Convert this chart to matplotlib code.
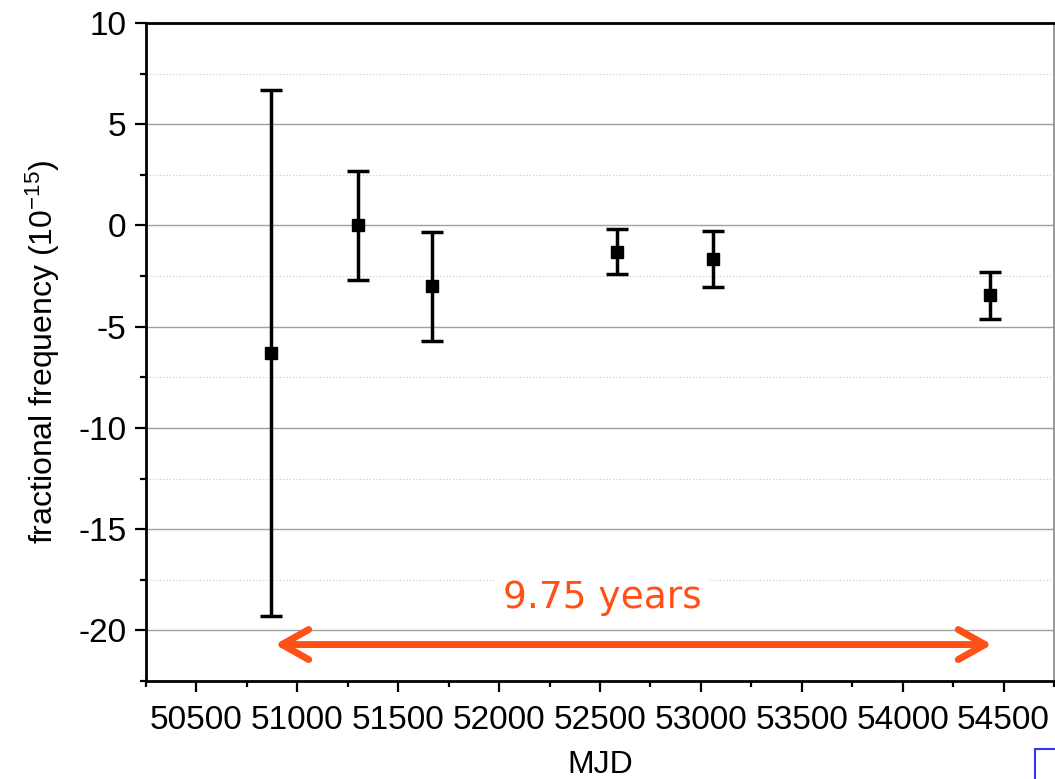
import matplotlib.pyplot as plt
import matplotlib.patches as patches
from matplotlib.ticker import MultipleLocator

plt.rcParams['font.family'] = ['Liberation Sans', 'DejaVu Sans']
plt.rcParams['axes.unicode_minus'] = False
plt.rcParams['mathtext.fontset'] = 'custom'
plt.rcParams['mathtext.rm'] = 'Liberation Sans'
plt.rcParams['mathtext.default'] = 'regular'
plt.rcParams['font.size'] = 24

# data
mjd = [50869, 51300, 51666, 52582, 53062, 54433]
freq = [-6.3, 0.0, -3.0, -1.3, -1.65, -3.45]
err = [13.0, 2.7, 2.7, 1.1, 1.4, 1.15]
span_start, span_end = 50889, 54443
span_label = '9.75 years'

fig = plt.figure(figsize=(10.55, 7.79), dpi=100)
ax = fig.add_axes([0.1384, 0.1258, 0.8606, 0.8447])

ax.errorbar(mjd, freq, yerr=err, fmt='s', color='black', ms=8.5, lw=2.5,
            capsize=8, capthick=2.5, zorder=3)

ax.set_xlim(50250, 54750)
ax.set_ylim(-22.5, 10)
ax.xaxis.set_major_locator(MultipleLocator(500))
ax.xaxis.set_minor_locator(MultipleLocator(250))
ax.yaxis.set_major_locator(MultipleLocator(5))
ax.yaxis.set_minor_locator(MultipleLocator(2.5))
ax.set_xticks([50500, 51000, 51500, 52000, 52500, 53000, 53500, 54000, 54500])

ax.grid(which='major', axis='y', color='#a0a0a0', lw=1.0)
ax.grid(which='minor', axis='y', color='#c8c8c8', lw=0.8, ls=(0, (1, 2)))
ax.set_axisbelow(True)

ax.tick_params(which='major', direction='out', length=8, width=1.6, pad=6)
ax.tick_params(which='minor', direction='out', length=4, width=1.6)
ax.tick_params(axis='both', labelsize=24)
ax.tick_params(axis='x', pad=9)
for s in ['left', 'bottom', 'top']:
    ax.spines[s].set_linewidth(2)
ax.spines['right'].set_linewidth(1.2)
ax.spines['right'].set_color('#888888')

ax.set_xlabel('MJD', fontsize=23, labelpad=10)
ax.set_ylabel('fractional frequency (10$^{-15}$)', fontsize=23, labelpad=12)

ax.annotate('', xy=(span_end, -20.7), xytext=(span_start, -20.7),
            arrowprops=dict(arrowstyle='<->,head_length=0.8,head_width=0.45',
                            color='#ff5016', lw=5, shrinkA=0, shrinkB=0,
                            capstyle='round', joinstyle='round'))
ax.text(52510, -18.4, span_label, color='#ff5016',
        fontsize=27, family=['DejaVu Sans'], ha='center', va='center',
        bbox=dict(facecolor='white', edgecolor='none', pad=6))

fig.patches.append(patches.Rectangle((1035 / 1055, -0.01), 0.05, 0.048,
                                     transform=fig.transFigure, fill=False,
                                     edgecolor='#3333ff', lw=1.5))

plt.savefig('out.png', dpi=100)
